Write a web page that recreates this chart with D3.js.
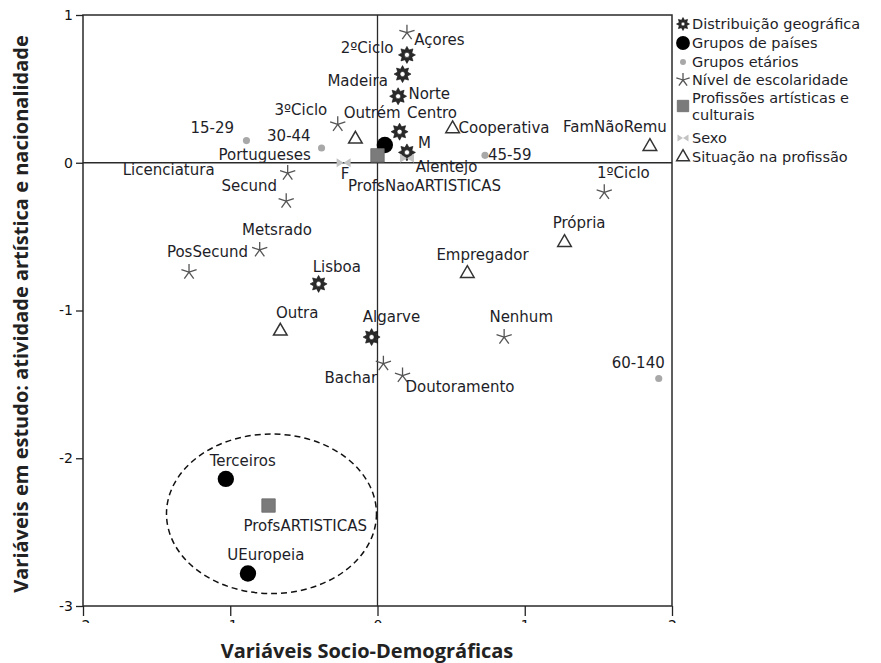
<!DOCTYPE html>
<meta charset="utf-8">
<style>
body { margin: 0; background: #fff; }
.lbl { font: 15px "DejaVu Sans", sans-serif; fill: #1e1e28; }
.leg { font: 14.5px "DejaVu Sans", sans-serif; fill: #1e1e28; }
.tick text { font: 14px "DejaVu Sans", sans-serif; fill: #111; }
.tick line { stroke: #222; stroke-width: 1.3; }
.title { font: bold 20px "Open Sans", sans-serif; fill: #222; }
</style>
<body>
<script src="https://d3js.org/d3.v7.min.js"></script>
<script>

// categories (legend order)
var groups = ["Distribuição geográfica", "Grupos de países", "Grupos etários",
              "Nível de escolaridade", "Profissões artísticas e culturais", "Sexo",
              "Situação na profissão"];

// points per group: [name, dim1, dim2]
var geografica = [["Açores", 0.20, 0.73], ["Madeira", 0.17, 0.60], ["Norte", 0.14, 0.45],
                  ["Centro", 0.15, 0.21], ["Alentejo", 0.20, 0.07], ["Lisboa", -0.40, -0.82],
                  ["Algarve", -0.04, -1.18]];
var paises = [["Portugueses", 0.05, 0.12], ["Terceiros", -1.03, -2.14], ["UEuropeia", -0.88, -2.78]];
var etarios = [["15-29", -0.89, 0.15], ["30-44", -0.38, 0.10], ["45-59", 0.73, 0.05], ["60-140", 1.91, -1.46]];
var escolaridade = [["2ºCiclo", 0.20, 0.88], ["3ºCiclo", -0.27, 0.26], ["Licenciatura", -0.61, -0.07],
                    ["Secund", -0.62, -0.26], ["Metsrado", -0.80, -0.59], ["PosSecund", -1.28, -0.74],
                    ["1ºCiclo", 1.54, -0.20], ["Nenhum", 0.86, -1.18], ["Bachar", 0.04, -1.36],
                    ["Doutoramento", 0.17, -1.44]];
var profissoes = [["ProfsNaoARTISTICAS", 0.00, 0.05], ["ProfsARTISTICAS", -0.74, -2.32]];
var sexo = [["F", -0.23, 0.00], ["M", 0.20, 0.03]];
var situacao = [["Outrém", -0.15, 0.16], ["Cooperativa", 0.51, 0.23], ["FamNãoRemu", 1.85, 0.11],
                ["Própria", 1.27, -0.54], ["Empregador", 0.61, -0.75], ["Outra", -0.66, -1.14]];

// label anchors (data units, text start / baseline)
var labels = [["Açores", 0.25, 0.80], ["2ºCiclo", -0.25, 0.74], ["Madeira", -0.34, 0.52],
              ["Norte", 0.21, 0.43], ["Centro", 0.20, 0.30], ["Outrém", -0.23, 0.30],
              ["3ºCiclo", -0.70, 0.32], ["15-29", -1.27, 0.20], ["30-44", -0.75, 0.15],
              ["Portugueses", -1.08, 0.02], ["Licenciatura", -1.73, -0.08], ["Secund", -1.06, -0.19],
              ["F", -0.25, -0.11], ["ProfsNaoARTISTICAS", -0.20, -0.19], ["M", 0.275, 0.10],
              ["Alentejo", 0.26, -0.06], ["Cooperativa", 0.55, 0.20], ["45-59", 0.75, 0.02],
              ["FamNãoRemu", 1.26, 0.21], ["1ºCiclo", 1.49, -0.10], ["Própria", 1.19, -0.44],
              ["Empregador", 0.40, -0.66], ["Metsrado", -0.92, -0.49], ["PosSecund", -1.43, -0.64],
              ["Lisboa", -0.44, -0.74], ["Outra", -0.69, -1.05], ["Algarve", -0.10, -1.08],
              ["Nenhum", 0.76, -1.08], ["60-140", 1.59, -1.39], ["Bachar", -0.36, -1.49],
              ["Doutoramento", 0.19, -1.55], ["Terceiros", -1.14, -2.05],
              ["ProfsARTISTICAS", -0.91, -2.49], ["UEuropeia", -1.02, -2.69]];

var xTicks = [-2, -1, 0, 1, 2];
var yTicks = [-3, -2, -1, 0, 1];

// dashed ellipse around the artistic cluster: centre and radii in data units
var cluster = {cx: -0.72, cy: -2.376, rx: 0.713, ry: 0.54};

var width = 881, height = 663;
var plot = {left: 83, right: 672, top: 15, bottom: 606};

var x = d3.scaleLinear().domain([-2, 2]).range([plot.left, plot.right]);
var y = d3.scaleLinear().domain([-3, 1]).range([plot.bottom, plot.top]);

var svg = d3.select("body").append("svg")
    .attr("width", width)
    .attr("height", height);

// custom marker shapes
function gear(r) {
  return {draw: function(c) {
    for (var i = 0; i < 16; i++) {
      var a = i * Math.PI / 8 - Math.PI / 2, rr = i % 2 ? r * 0.62 : r;
      if (i === 0) c.moveTo(rr * Math.cos(a), rr * Math.sin(a));
      else c.lineTo(rr * Math.cos(a), rr * Math.sin(a));
    }
    c.closePath();
    c.moveTo(r * 0.3, 0);
    c.arc(0, 0, r * 0.3, 0, 2 * Math.PI);
  }};
}
function asterisk(r) {
  return {draw: function(c) {
    for (var i = 0; i < 5; i++) {
      var a = -Math.PI / 2 + i * 2 * Math.PI / 5;
      c.moveTo(0, 0);
      c.lineTo(r * Math.cos(a), r * Math.sin(a));
    }
  }};
}
function bowtie(w, h) {
  return {draw: function(c) {
    c.moveTo(-w, -h); c.lineTo(0, 0); c.lineTo(-w, h); c.closePath();
    c.moveTo(w, -h); c.lineTo(0, 0); c.lineTo(w, h); c.closePath();
  }};
}

var styles = [
  {type: gear(8.5), size: 64, fill: "#2a2a2a", stroke: "#111", sw: 0.6, rule: "evenodd", legSize: 64, legType: gear(6.5)},
  {type: d3.symbolCircle, size: 210, fill: "#000", stroke: "none", sw: 0, legSize: 150},
  {type: d3.symbolCircle, size: 40, fill: "#a8a8a8", stroke: "none", sw: 0, legSize: 28},
  {type: asterisk(8), size: 64, fill: "none", stroke: "#555", sw: 1.3, legSize: 64, legType: asterisk(7)},
  {type: d3.symbolSquare, size: 180, fill: "#7b7b7b", stroke: "#6a6a6a", sw: 0.8, legSize: 130},
  {type: bowtie(7, 4.5), size: 64, fill: "#c2c2c2", stroke: "none", sw: 0, legSize: 64, legType: bowtie(5.5, 3.5)},
  {type: d3.symbolTriangle, size: 80, fill: "#fff", stroke: "#333", sw: 1.5, legSize: 70}
];

var series = [geografica, paises, etarios, escolaridade, profissoes, sexo, situacao];

// plot frame and zero lines
svg.append("rect")
    .attr("x", plot.left).attr("y", plot.top)
    .attr("width", plot.right - plot.left).attr("height", plot.bottom - plot.top)
    .attr("fill", "none").attr("stroke", "#2a2a2a").attr("stroke-width", 1.5);
svg.append("line")
    .attr("x1", x(0)).attr("x2", x(0)).attr("y1", plot.top).attr("y2", plot.bottom)
    .attr("stroke", "#2a2a2a").attr("stroke-width", 1.3);
svg.append("line")
    .attr("x1", plot.left).attr("x2", plot.right).attr("y1", y(0)).attr("y2", y(0))
    .attr("stroke", "#2a2a2a").attr("stroke-width", 1.3);

// axes
svg.append("g")
    .attr("transform", "translate(" + plot.left + ",0)")
    .call(d3.axisLeft(y).tickValues(yTicks).tickSize(7).tickPadding(3).tickFormat(function(d) { return String(d); }))
    .call(function(g) { g.select(".domain").remove(); });

// x tick labels are cut off in the original, clip them the same way
svg.append("clipPath").attr("id", "xclip")
  .append("rect").attr("x", 0).attr("y", plot.bottom - 2).attr("width", width).attr("height", 19);

svg.append("g")
    .attr("clip-path", "url(#xclip)")
  .append("g")
    .attr("transform", "translate(0," + plot.bottom + ")")
    .call(d3.axisBottom(x).tickValues(xTicks).tickSize(10).tickPadding(4).tickFormat(function(d) { return String(d); }))
    .call(function(g) { g.select(".domain").remove(); });

// ellipse
svg.append("ellipse")
    .attr("cx", x(cluster.cx)).attr("cy", y(cluster.cy))
    .attr("rx", x(cluster.cx + cluster.rx) - x(cluster.cx))
    .attr("ry", y(cluster.cy - cluster.ry) - y(cluster.cy))
    .attr("fill", "none").attr("stroke", "#111").attr("stroke-width", 1.5)
    .attr("stroke-dasharray", "6,4");

// markers
series.forEach(function(pts, i) {
  var s = styles[i];
  svg.append("g").selectAll("path")
      .data(pts)
    .enter().append("path")
      .attr("transform", function(d) { return "translate(" + x(d[1]) + "," + y(d[2]) + ")"; })
      .attr("d", d3.symbol().type(s.type).size(s.size))
      .attr("fill", s.fill)
      .attr("fill-rule", s.rule || "nonzero")
      .attr("stroke", s.stroke)
      .attr("stroke-width", s.sw);
});

// point labels
svg.append("g").selectAll("text")
    .data(labels)
  .enter().append("text")
    .attr("class", "lbl")
    .attr("x", function(d) { return x(d[1]); })
    .attr("y", function(d) { return y(d[2]); })
    .text(function(d) { return d[0]; });

// legend (row centres; the two-line entry takes two rows)
var legRows = [24, 43, 62, 80, 106, 138, 157];
var legend = svg.append("g");
groups.forEach(function(g, i) {
  var s = styles[i];
  legend.append("path")
      .attr("transform", "translate(683," + legRows[i] + ")")
      .attr("d", d3.symbol().type(s.legType || s.type).size(s.legSize))
      .attr("fill", s.fill)
      .attr("fill-rule", s.rule || "nonzero")
      .attr("stroke", s.stroke)
      .attr("stroke-width", s.sw);
  var t = legend.append("text").attr("class", "leg").attr("x", 692);
  if (i === 4) {
    t.append("tspan").attr("x", 692).attr("y", legRows[i] - 3).text("Profissões artísticas e");
    t.append("tspan").attr("x", 692).attr("y", legRows[i] + 14).text("culturais");
  } else {
    t.attr("y", legRows[i] + 5).text(g);
  }
});

// axis titles
svg.append("text")
    .attr("class", "title")
    .attr("x", 367).attr("y", 658)
    .attr("text-anchor", "middle")
    .text("Variáveis Socio-Demográficas");

svg.append("text")
    .attr("class", "title")
    .attr("transform", "translate(28,314) rotate(-90)")
    .attr("text-anchor", "middle")
    .text("Variáveis em estudo: atividade artística e nacionalidade");

</script>
</body>
